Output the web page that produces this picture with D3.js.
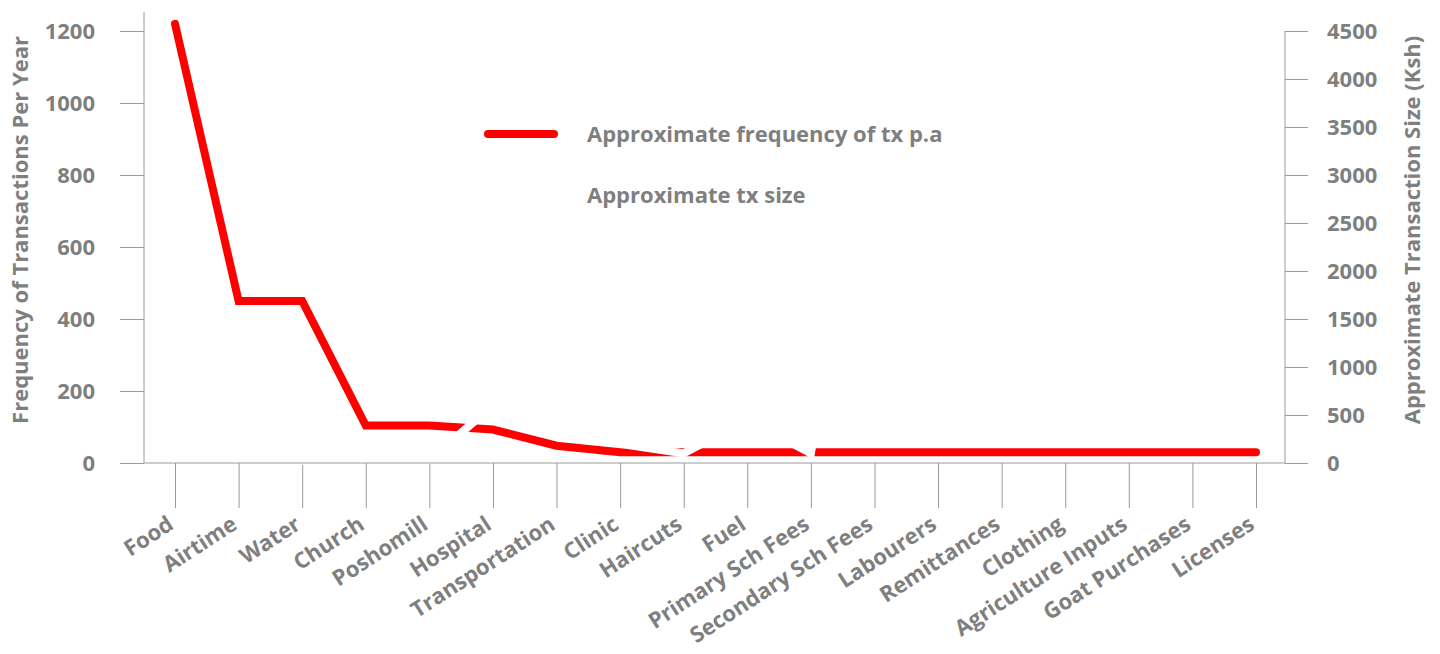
<!DOCTYPE html>
<html>
<head>
<meta charset="utf-8">
<script src="https://cdn.jsdelivr.net/npm/d3@7"></script>
<style>
  body { margin: 0; background: #fff; }
  svg text { font-family: "Open Sans", "Segoe UI", sans-serif; font-weight: 700; fill: #7f7f7f; }
</style>
</head>
<body>
<svg id="canvas" width="1440" height="654"></svg>
<script>
// categories along the bottom
var categories = ["Food", "Airtime", "Water", "Church", "Poshomill", "Hospital", "Transportation",
  "Clinic", "Haircuts", "Fuel", "Primary Sch Fees", "Secondary Sch Fees", "Labourers",
  "Remittances", "Clothing", "Agriculture Inputs", "Goat Purchases", "Licenses"];

// approximate frequency of tx p.a (left axis)
var frequency = [1220, 450, 450, 104, 104, 93, 48, 30, 30, 30, 30, 30, 30, 30, 30, 30, 30, 30];

// approximate tx size in Ksh (right axis) - drawn white, only seen where it cuts the red line
var txSize = [100, 50, 20, 50, 30, 600, 400, 200, 100, 450, 100, 4000, 1500, 2000, 1500, 2500, 3000, 1000];

var leftTicks = [0, 200, 400, 600, 800, 1000, 1200];
var rightTicks = [0, 500, 1000, 1500, 2000, 2500, 3000, 3500, 4000, 4500];

var seriesNames = ["Approximate frequency of tx p.a", "Approximate tx size"];
var seriesColors = ["#ff0000", "#ffffff"];

var svg = d3.select("#canvas");
var axisColor = "#9a9a9a";
var fontSize = "22px";

var plotLeft = 144, plotRight = 1285, plotBottom = 463, plotTop = 31;

var x = d3.scalePoint()
  .domain(categories)
  .range([175, 1256]);

var yLeft = d3.scaleLinear()
  .domain([0, 1200])
  .range([plotBottom, plotTop]);

var yRight = d3.scaleLinear()
  .domain([0, 4500])
  .range([plotBottom, plotTop]);

//left axis
var leftAxis = svg.append("g")
  .attr("transform", "translate(" + plotLeft + ",0)")
  .call(d3.axisLeft(yLeft).tickValues(leftTicks).tickFormat(d3.format("d")).tickSize(24).tickPadding(25));
leftAxis.select(".domain").remove();

//right axis
var rightAxis = svg.append("g")
  .attr("transform", "translate(" + plotRight + ",0)")
  .call(d3.axisRight(yRight).tickValues(rightTicks).tickFormat(d3.format("d")).tickSize(23).tickPadding(19));
rightAxis.select(".domain").remove();

//bottom axis, labels drawn separately
var bottomAxis = svg.append("g")
  .attr("transform", "translate(0," + plotBottom + ")")
  .call(d3.axisBottom(x).tickSize(45).tickFormat(""));
bottomAxis.select(".domain").remove();

[leftAxis, rightAxis, bottomAxis].forEach(function(g) {
  g.selectAll("line").attr("stroke", axisColor);
  g.selectAll("text")
    .style("font-size", fontSize)
    .style("fill", "#7f7f7f")
    .style("font-family", "'Open Sans', sans-serif")
    .style("font-weight", 700);
});

// frame lines
svg.append("line")
  .attr("x1", plotLeft).attr("x2", plotLeft)
  .attr("y1", 12).attr("y2", plotBottom)
  .attr("stroke", axisColor);
svg.append("line")
  .attr("x1", plotRight).attr("x2", plotRight)
  .attr("y1", plotTop).attr("y2", plotBottom)
  .attr("stroke", axisColor);

// category labels
svg.append("g").selectAll("text")
  .data(categories)
  .enter().append("text")
  .attr("transform", function(d) { return "translate(" + x(d) + ",528) rotate(-33)"; })
  .attr("text-anchor", "end")
  .style("font-size", fontSize)
  .text(function(d) { return d; });

// axis titles
svg.append("text")
  .attr("transform", "translate(28,230) rotate(-90)")
  .attr("text-anchor", "middle")
  .style("font-size", fontSize)
  .text("Frequency of Transactions Per Year");

svg.append("text")
  .attr("transform", "translate(1420,230) rotate(-90)")
  .attr("text-anchor", "middle")
  .style("font-size", fontSize)
  .text("Approximate Transaction Size (Ksh)");

// lines
var freqLine = d3.line()
  .x(function(d, i) { return x(categories[i]); })
  .y(function(d) { return yLeft(d); });

var sizeLine = d3.line()
  .x(function(d, i) { return x(categories[i]); })
  .y(function(d) { return yRight(d); });

svg.append("path")
  .datum(frequency)
  .attr("d", freqLine)
  .attr("fill", "none")
  .attr("stroke", seriesColors[0])
  .attr("stroke-width", 8)
  .attr("stroke-linejoin", "miter")
  .attr("stroke-linecap", "round");

svg.append("path")
  .datum(txSize)
  .attr("d", sizeLine)
  .attr("fill", "none")
  .attr("stroke", seriesColors[1])
  .attr("stroke-width", 8)
  .attr("stroke-linejoin", "miter")
  .attr("stroke-linecap", "butt");

// baseline on top of the white series
svg.append("line")
  .attr("x1", plotLeft).attr("x2", plotRight)
  .attr("y1", plotBottom).attr("y2", plotBottom)
  .attr("stroke", axisColor);

// legend
var legend = svg.append("g");
seriesNames.forEach(function(name, i) {
  var ly = 134 + i * 61;
  legend.append("line")
    .attr("x1", 488).attr("x2", 554)
    .attr("y1", ly).attr("y2", ly)
    .attr("stroke", seriesColors[i])
    .attr("stroke-width", 8)
    .attr("stroke-linecap", "round");
  legend.append("text")
    .attr("x", 587)
    .attr("y", ly)
    .attr("dy", "0.35em")
    .style("font-size", fontSize)
    .text(name);
});
</script>
</body>
</html>
